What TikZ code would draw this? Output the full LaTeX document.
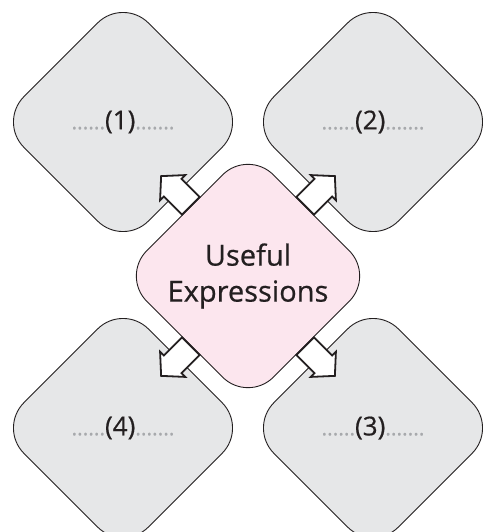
\documentclass[tikz,border=0pt]{standalone}
\usepackage{fontspec}
\setmainfont{Open Sans}
\newfontfamily\heavyfont{Open Sans}[FakeBold=0.6]
\usetikzlibrary{shapes.arrows}
\definecolor{boxgray}{HTML}{E6E7E8}
\definecolor{boxpink}{HTML}{FCE6EE}
\definecolor{dotgray}{HTML}{A7A9AC}
\definecolor{ink}{HTML}{231F20}
\tikzset{
  graybox/.style={draw=ink, line width=0.9pt, fill=boxgray, rounded corners=36pt,
    rotate=45, minimum width=176pt, minimum height=176pt, inner sep=0pt},
  pinkbox/.style={draw=ink, line width=0.9pt, fill=boxpink, rounded corners=36pt,
    rotate=45, minimum width=179pt, minimum height=179pt, inner sep=0pt},
  blank/.style={draw=ink, line width=1.8pt, fill=white, single arrow, inner xsep=0pt,
    inner ysep=11.5pt, minimum height=42pt, single arrow head extend=5.5pt,
    single arrow tip angle=95},
  lbl/.style={text=ink, font=\heavyfont\fontsize{26}{30}\selectfont, inner sep=0pt},
  mainlbl/.style={text=ink, font=\heavyfont\fontsize{29}{36}\selectfont, align=center, inner sep=0pt}
}
\newcommand{\dotsl}{\textcolor{dotgray}{\fontsize{21}{22}\selectfont......}}
\newcommand{\dotsr}{\textcolor{dotgray}{\fontsize{21}{22}\selectfont.......}}
\begin{document}
\begin{tikzpicture}[x=1pt,y=-1pt]
\clip (0,0) rectangle (484,532);
\fill[white] (0,0) rectangle (484,532);
\node[graybox] (b1) at (123,122) {};
\node[graybox] (b2) at (373,122) {};
\node[graybox] (b3) at (373,428) {};
\node[graybox] (b4) at (123,428) {};
\node[pinkbox] (c) at (248,276) {};
\node[lbl] (t1) at (b1) {\dotsl(1)\dotsr};
\node[lbl] (t2) at (b2) {\dotsl(2)\dotsr};
\node[lbl] (t3) at (b3) {\dotsl(3)\dotsr};
\node[lbl] (t4) at (b4) {\dotsl(4)\dotsr};
\node[mainlbl] (tc) at (c) {Useful\\Expressions};
\node[blank, rotate=135] (a1) at (180,195) {};
\node[blank, rotate=45] (a2) at (316,195) {};
\node[blank, rotate=-45] (a3) at (316,357) {};
\node[blank, rotate=-135] (a4) at (180,357) {};
\end{tikzpicture}
\end{document}
